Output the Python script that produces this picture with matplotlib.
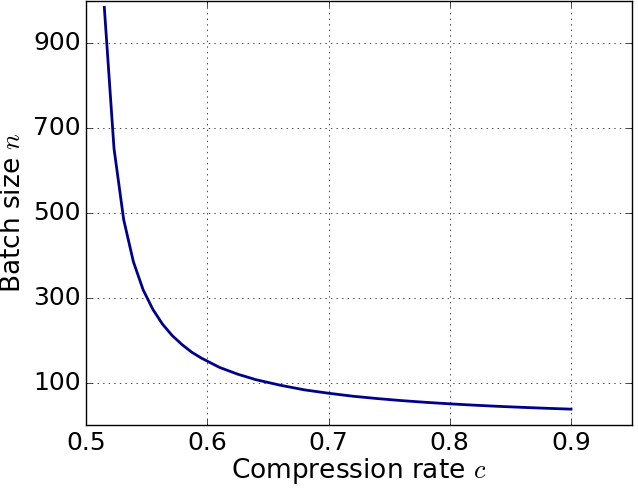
import matplotlib
matplotlib.use('Agg')
import matplotlib.pyplot as plt

# values
rate = [0.515, 0.523, 0.531, 0.539, 0.547, 0.555, 0.563, 0.571, 0.579,
        0.587, 0.595, 0.61, 0.625, 0.64, 0.66, 0.68, 0.70, 0.72, 0.74,
        0.76, 0.78, 0.80, 0.82, 0.84, 0.86, 0.88, 0.90]
batch = [985, 652, 484, 385, 319, 273, 238, 211, 190,
         172, 158, 136, 120, 107, 94, 83, 75, 68, 62.5,
         57.7, 53.6, 50, 46.9, 44.1, 41.7, 39.5, 37.5]

xticks = [0.5, 0.6, 0.7, 0.8, 0.9]
yticks = [100, 300, 500, 700, 900]

plt.style.use('classic')
fig = plt.figure(figsize=(6.38, 4.88), dpi=100)
ax = fig.add_axes([0.135, 0.129, 0.855, 0.869])

ax.plot(rate, batch, color='darkblue', lw=2)
ax.set_xlim(0.5, 0.95)
ax.set_ylim(0, 1000)
ax.set_xticks(xticks)
ax.set_yticks(yticks)
ax.tick_params(labelsize=18)
ax.grid(True)
ax.set_xlabel('Compression rate $c$', fontsize=19, labelpad=1)
ax.set_ylabel('Batch size $n$', fontsize=19)

fig.savefig('out.png', dpi=100)
